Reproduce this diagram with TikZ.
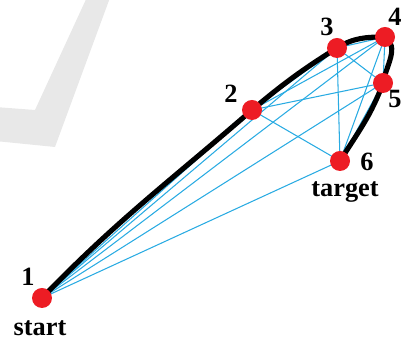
\documentclass[tikz,border=0pt]{standalone}
\usepackage{fontspec}
\setmainfont{Liberation Serif}
\usepackage{tikz}
\usetikzlibrary{arrows.meta, positioning, calc}
\usepackage{xcolor}
\definecolor{vertexred}{RGB}{237,28,36}
\definecolor{edgeblue}{RGB}{41,171,226}

\begin{document}
\begin{tikzpicture}[
    x=0.02cm, y=0.02cm,
    vertex/.style={
        circle,
        fill=vertexred,
        inner sep=0pt,
        minimum size=20*0.02cm
    },
    num/.style={
        font=\fontsize{15}{17}\selectfont\bfseries,
        inner sep=0pt
    },
    edge/.style={
        draw=edgeblue,
        line width=0.6pt
    },
    route/.style={
        draw=black,
        line width=2.9pt
    }
]
\useasboundingbox (0,0) rectangle (402,340);

% Faint mark in the background
\fill[black!9] (88,345) -- (111,345) -- (55,193) -- (-5,199) -- (-5,233) -- (35,230) -- cycle;

% Vertex positions
\coordinate (p1) at (42,42);
\coordinate (p2) at (252,230);
\coordinate (p3) at (337,292);
\coordinate (p4) at (385,303);
\coordinate (p5) at (383,257);
\coordinate (p6) at (340,179);

% Edges between all vertices
\draw[edge] (p1) -- (p2);
\draw[edge] (p1) -- (p3);
\draw[edge] (p1) -- (p4);
\draw[edge] (p1) -- (p5);
\draw[edge] (p1) -- (p6);
\draw[edge] (p2) -- (p3);
\draw[edge] (p2) -- (p4);
\draw[edge] (p2) -- (p5);
\draw[edge] (p2) -- (p6);
\draw[edge] (p3) -- (p4);
\draw[edge] (p3) -- (p5);
\draw[edge] (p3) -- (p6);
\draw[edge] (p4) -- (p5);
\draw[edge] (p4) -- (p6);
\draw[edge] (p5) -- (p6);

% Chosen route from start to target
\draw[route] (p1) to[out=46, in=221] (p2)
                  to[out=40, in=212] (p3)
                  to[out=32, in=180] (p4)
                  to[out=-35, in=80] (p5)
                  to[out=-110, in=58] (p6);

% Nodes
\node[vertex] (v1) at (p1) {};
\node[vertex] (v2) at (p2) {};
\node[vertex] (v3) at (p3) {};
\node[vertex] (v4) at (p4) {};
\node[vertex] (v5) at (p5) {};
\node[vertex] (v6) at (p6) {};

% Labels
\node[num] (l1) at ($(v1)+(-14,21)$) {1};
\node[num] (start) at ($(v1)+(-2,-30)$) {start};
\node[num] (l2) at ($(v2)+(-21,16)$) {2};
\node[num] (l3) at ($(v3)+(-10,21)$) {3};
\node[num] (l4) at ($(v4)+(10,20)$) {4};
\node[num] (l5) at ($(v5)+(12,-16)$) {5};
\node[num] (l6) at ($(v6)+(27,-1)$) {6};
\node[num] (target) at ($(v6)+(5,-31)$) {target};

\end{tikzpicture}
\end{document}
